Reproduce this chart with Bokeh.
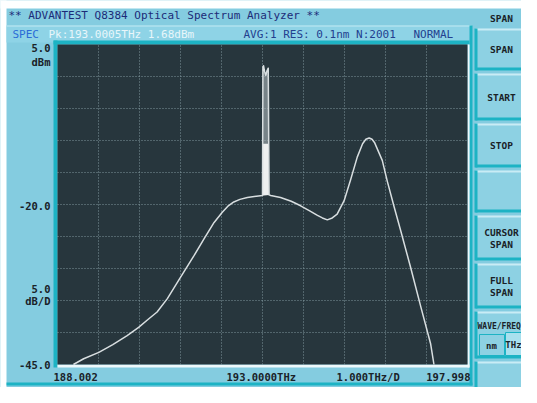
import numpy as np
from bokeh.plotting import figure
from bokeh.models import Label, BoxAnnotation, Range1d
from bokeh.embed import file_html
from bokeh.resources import INLINE

# ---------------- data ----------------
START_THZ = 188.002
STOP_THZ = 197.998
TOP_DBM = 5.0
BOTTOM_DBM = -45.0

freq_thz = [188.39, 188.64, 189.01, 189.35, 189.70, 189.98, 190.20, 190.43, 190.68,
            191.00, 191.33, 191.57, 191.82, 192.02, 192.15, 192.30, 192.45, 192.63, 192.85, 193.000,
            193.010, 193.025, 193.050, 193.080, 193.110, 193.140, 193.160,
            193.20, 193.44, 193.70, 193.93, 194.15, 194.34, 194.46, 194.58, 194.70, 194.82,
            194.99, 195.15, 195.31, 195.44, 195.52, 195.60, 195.67, 195.73, 195.92, 196.04, 196.21,
            196.37, 196.61, 196.86, 197.10, 197.18]
power_dbm = [-45.0, -44.1, -43.1, -41.9, -40.5, -39.2, -38.0, -36.8, -34.7,
             -31.4, -28.0, -25.4, -22.8, -21.2, -20.3, -19.6, -19.2, -18.9, -18.7, -18.6,
             1.5, 1.68, 0.8, 0.2, 0.9, 1.3, -18.5,
             -18.6, -18.9, -19.5, -20.2, -21.0, -21.7, -22.1, -22.4, -22.1, -21.5,
             -19.4, -16.1, -12.6, -10.5, -9.8, -9.6, -9.8, -10.3, -13.1, -16.3, -20.4,
             -24.1, -29.8, -36.0, -41.8, -45.0]

header_title = "** ADVANTEST Q8384 Optical Spectrum Analyzer **"
status_mode = "SPEC"
status_peak = "Pk:193.0005THz 1.68dBm"
status_setup = "AVG:1 RES: 0.1nm N:2001"
status_sweep = "NORMAL"
y_labels = ["5.0", "dBm", "-20.0", "5.0", "dB/D", "-45.0"]
x_labels = ["188.002", "193.0000THz", "1.000THz/D", "197.998"]
menu_title = "SPAN"
softkeys = [["SPAN"], ["START"], ["STOP"], [], ["CURSOR", "SPAN"], ["FULL", "SPAN"], ["WAVE/FREQ"], []]
unit_tabs = ["nm", "THz"]

# ---------------- layout / styling ----------------
W, H = 521, 387
FRAME_L, FRAME_T = 57, 44     # spectrum frame, pixels from top-left
FRAME_W, FRAME_H = 410, 320

BG = "#84cce0"
DARK = "#27363d"
TEAL = "#1db3c4"
LIGHT = "#e8f6fa"
MONO = "DejaVu Sans Mono"

# data ranges chosen so that the spectrum frame lands on its pixel box
px_per_thz = FRAME_W / (STOP_THZ - START_THZ)
px_per_db = FRAME_H / (TOP_DBM - BOTTOM_DBM)
right_px = W - FRAME_L - FRAME_W
bot_px = H - FRAME_T - FRAME_H
x_range = Range1d(START_THZ - FRAME_L / px_per_thz, STOP_THZ + right_px / px_per_thz)
y_range = Range1d(BOTTOM_DBM - bot_px / px_per_db, TOP_DBM + FRAME_T / px_per_db)

p = figure(width=W, height=H, title=None, x_range=x_range, y_range=y_range,
           x_axis_location=None, y_axis_location=None,
           output_backend="svg", toolbar_location=None, min_border=0)
p.background_fill_color = BG
p.border_fill_color = BG
p.outline_line_color = None
p.grid.visible = False


def sx(x):
    return x


def sy(y):
    return H - y


def box(l, t, r, b, fill, line=None, lw=1):
    p.add_layout(BoxAnnotation(left=sx(l), right=sx(r), top=sy(t), bottom=sy(b),
                               left_units="screen", right_units="screen",
                               top_units="screen", bottom_units="screen",
                               fill_color=fill, fill_alpha=1.0,
                               line_color=line, line_alpha=1.0, line_width=lw,
                               level="underlay"))


def label(x, y, text, color="#1a2228", align="left", size="11px", style="normal", font=MONO):
    p.add_layout(Label(x=sx(x), y=sy(y), x_units="screen", y_units="screen", text=text,
                       text_align=align, text_baseline="middle", text_color=color,
                       text_font=font, text_font_size=size, text_font_style=style))


# white screen margins
box(-5, -5, W + 5, 8, "#ffffff")
box(-5, -5, 6, H + 5, "#ffffff")
# status row tab
box(6, 25, 471, 42, "#8ed3e6")
box(6, 25, 471, 26, "#c2e9f3")
# main panel teal edges
box(469, 25, 472, 385, TEAL)
box(6, 382, 472, 385, TEAL)
# frame bevel
box(53, 40, 469, 44, TEAL)
box(53, 40, 57, 367, TEAL)
box(467, 44, 469, 367, "#eef8fb")
box(57, 364, 469, 367, "#eef8fb")

# dark display area (data units)
p.add_layout(BoxAnnotation(left=START_THZ, right=STOP_THZ, bottom=BOTTOM_DBM, top=TOP_DBM,
                           fill_color=DARK, fill_alpha=1.0, line_color=None, level="underlay"))

# graticule
xticks = [START_THZ + k * (STOP_THZ - START_THZ) / 10 for k in range(1, 10)]
yticks = [BOTTOM_DBM + k * (TOP_DBM - BOTTOM_DBM) / 10 for k in range(1, 10)]
p.segment(x0=xticks, y0=[BOTTOM_DBM] * len(xticks), x1=xticks, y1=[TOP_DBM] * len(xticks),
          line_color="#8ea4ad", line_dash="1 2", line_alpha=0.85, line_width=1)
p.segment(x0=[START_THZ] * len(yticks), y0=yticks, x1=[STOP_THZ] * len(yticks), y1=yticks,
          line_color="#8ea4ad", line_dash="1 2", line_alpha=0.85, line_width=1)

# trace
f = np.array(freq_thz)
pw = np.array(power_dbm)
m = (f >= 193.0) & (f <= 193.16)
p.patch(f[m], pw[m], fill_color="#b9c2c6", fill_alpha=0.55, line_color=None)
p.patch(f[m], np.minimum(pw[m], -10.5), fill_color="#f4f6f6", fill_alpha=0.95, line_color=None)
p.line(freq_thz, power_dbm, line_color="#d8dee0", line_width=1.5, line_join="round")

# soft keys
KX0, KX1 = 475, W + 10
keys = [(28, 70), (73, 120), (123, 167), (170, 212), (215, 260), (263, 308), (311, 358), (361, 410)]
for (t, b) in keys:
    box(KX0, t, KX1, b, "#8dd1e3")
    box(KX0, t, KX1, t + 2, "#c9ecf5")
    box(KX0 - 1, t, KX0 + 2, b, TEAL)
    box(KX0, b - 3, KX1, b, TEAL)
box(479, 334, 504, 355, "#8dd1e3", TEAL, 1)
box(505, 332, KX1, 355, "#a9e0ee", TEAL, 1)

# texts
label(8, 15, header_title, color="#1c2b78")
label(12, 34, status_mode, color="#2b6bd6")
label(48, 34, status_peak, color=LIGHT)
label(243, 34, status_setup, color="#23408f")
label(413, 34, status_sweep, color="#23408f")

ylab_pos = [47, 61, 205, 288, 300, 364]
for txt, yy in zip(y_labels, ylab_pos):
    label(50, yy, txt, align="right", size="10.5px", style="bold")

xlab_pos = [(53, "left"), (226, "left"), (336, "left"), (470, "right")]
for txt, (xx, al) in zip(x_labels, xlab_pos):
    label(xx, 376, txt, align=al, size="10.5px", style="bold")

KC = 501
label(KC, 18, menu_title, align="center", size="9.5px", style="bold")
for (t, b), lines in zip(keys, softkeys):
    if not lines:
        continue
    if lines[0] == "WAVE/FREQ":
        label(477, 326, lines[0], align="left", size="8px", style="bold")
        continue
    mid = (t + b) / 2
    n = len(lines)
    for i, ln in enumerate(lines):
        label(KC, mid + (i - (n - 1) / 2) * 12, ln, align="center", size="9.5px", style="bold")
label(491, 345, unit_tabs[0], align="center", size="9px", style="bold")
label(513, 344, unit_tabs[1], align="center", size="9px", style="bold")

open("out.html", "w").write(file_html(p, INLINE))
